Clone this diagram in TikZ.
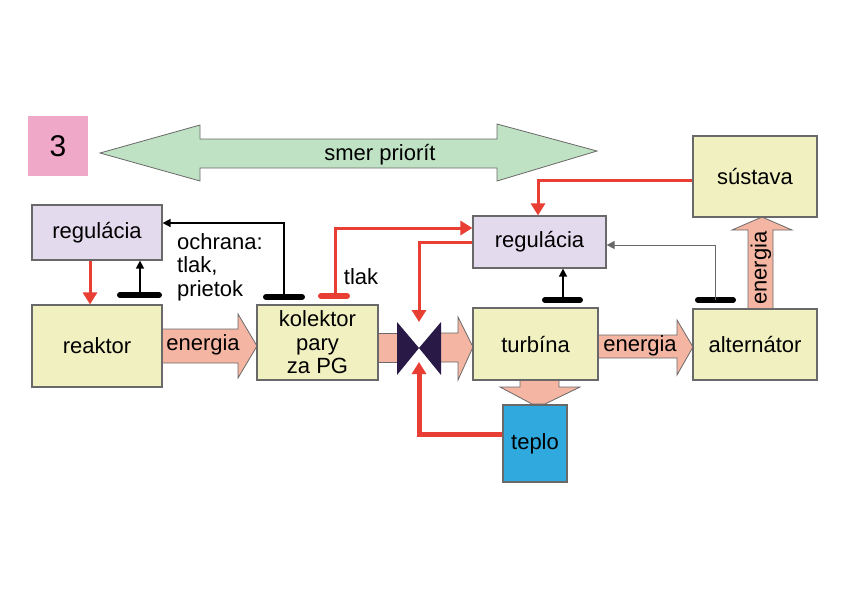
\documentclass[tikz,border=0pt]{standalone}
\usepackage{fontspec}
\setmainfont{Liberation Sans}
\usepackage{tikz}
\usetikzlibrary{arrows.meta, calc}
\definecolor{boxYellow}{RGB}{240,240,192}
\definecolor{boxLilac}{RGB}{228,218,238}
\definecolor{numPink}{RGB}{240,168,200}
\definecolor{prioGreen}{RGB}{192,226,196}
\definecolor{energySalmon}{RGB}{244,182,162}
\definecolor{heatBlue}{RGB}{48,170,222}
\definecolor{valveNavy}{RGB}{40,25,70}
\definecolor{ctrlRed}{RGB}{232,62,52}
\definecolor{edgeGray}{RGB}{105,105,105}
\tikzset{
  txt/.style={font=\fontsize{22}{23.5}\selectfont, inner sep=0pt},
  block/.style={txt, draw=edgeGray, line width=1.2pt, fill=boxYellow, align=center},
  ctrl/.style={block, fill=boxLilac},
  flow/.style={draw=edgeGray, line width=0.8pt, fill=energySalmon},
  redline/.style={ctrlRed, line width=3pt, -{Triangle[length=12pt,width=14pt]}},
  sense/.style={line width=1.5pt, -{Triangle[length=8pt,width=8pt]}},
  sensorbar/.style={line width=6pt, line cap=round},
}

\begin{document}
\begin{tikzpicture}[x=1pt, y=-1pt]
  \useasboundingbox (0,0) rectangle (850,600);

  % smer priorit
  \filldraw [draw=edgeGray, line width=0.8pt, fill=prioGreen] (100,153) -- (200,125) -- (200,139) -- (497,139) -- (497,124) -- (597,151) -- (497,181) -- (497,168) -- (200,168) -- (200,181) -- cycle;
  \node[txt] (prio) at (380,155) {smer priorít};
  \node[txt, fill=numPink, minimum width=60pt, minimum height=60pt, font=\fontsize{30}{30}\selectfont] (num) at (58,146) {3};

  % energy flow
  \filldraw [flow] (162,329) -- (238,329) -- (238,314) -- (257,346) -- (238,378) -- (238,363) -- (162,363) -- cycle;
  \filldraw [flow] (378,333) -- (400,333) -- (400,362) -- (378,362) -- cycle;
  \filldraw [flow] (438,333) -- (458,333) -- (458,317) -- (473,347) -- (458,380) -- (458,362) -- (438,362) -- cycle;
  \filldraw [flow] (598,335) -- (677,335) -- (677,320) -- (693,347) -- (677,375) -- (677,358) -- (598,358) -- cycle;
  \filldraw [flow] (748,309) -- (748,230) -- (732,230) -- (762,217) -- (792,230) -- (773,230) -- (773,309) -- cycle;
  \filldraw [flow] (520,380) -- (520,387) -- (500,387) -- (532,404) -- (545,404) -- (580,387) -- (559,387) -- (559,380) -- cycle;
  \node[txt] (e1) at (203,345) {energia};
  \node[txt] (e2) at (640,346) {energia};
  \node[txt, rotate=90] (e3) at (761,268) {energia};

  % valve
  \coordinate (valve) at (419,348);
  \fill [valveNavy] (397,322) -- (valve) -- (397,375) -- cycle;
  \fill [valveNavy] (441,322) -- (valve) -- (441,375) -- cycle;

  % blocks
  \node[ctrl, minimum width=130pt, minimum height=55pt] (regL) at (97,232.5) {regulácia};
  \node[block, minimum width=130pt, minimum height=82pt] (reaktor) at (97,346) {reaktor};
  \node[block, minimum width=121pt, minimum height=75pt] (kolektor) at (317.5,342.5) {kolektor\\pary\\za PG};
  \node[ctrl, minimum width=133pt, minimum height=52pt] (regR) at (539.5,242) {regulácia};
  \node[block, minimum width=125pt, minimum height=72pt] (turbina) at (535.5,344) {turbína};
  \node[block, fill=heatBlue, minimum width=64pt, minimum height=77pt] (teplo) at (535,443.5) {teplo};
  \node[block, minimum width=124pt, minimum height=71pt] (alternator) at (755,344.5) {alternátor};
  \node[block, minimum width=124pt, minimum height=81pt] (sustava) at (755,176.5) {sústava};

  \node[txt, anchor=north west, align=left] (ochrana) at (177,233) {ochrana:\\tlak,\\prietok};
  \node[txt] (tlak) at (361,277) {tlak};

  % sensors
  \draw [sensorbar] (120,295) -- (159,295);
  \coordinate (s1) at (140,295);
  \draw [sense] (s1) -- (s1 |- regL.south);
  \draw [sensorbar] (266,297) -- (302,297);
  \coordinate (s2) at (284,297);
  \draw [sense] (s2) |- (regL.east |- 0,223);
  \draw [sensorbar, ctrlRed] (321,296) -- (347,296);
  \coordinate (s3) at (335,296);
  \draw [redline] (s3) |- (regR.west |- 0,228);
  \draw [sensorbar] (545,300) -- (580,300);
  \coordinate (s4) at (563,300);
  \draw [sense] (s4) -- (s4 |- regR.south);
  \draw [sensorbar] (698,300) -- (733,300);
  \coordinate (s5) at (715,300);
  \draw [sense, edgeGray, line width=1pt] (s5) |- (regR.east |- 0,245);

  % control
  \draw [redline] (regL.south -| 90,0) -- (reaktor.north -| 90,0);
  \draw [redline] (sustava.west |- 0,180) -| (regR.north -| 538,0);
  \draw [redline] (regR.west) -| ($(valve)+(0,-26)$);
  \draw [redline, line width=5pt] (teplo.west |- 0,434) -| ($(valve)+(0,14)$);
\end{tikzpicture}
\end{document}
